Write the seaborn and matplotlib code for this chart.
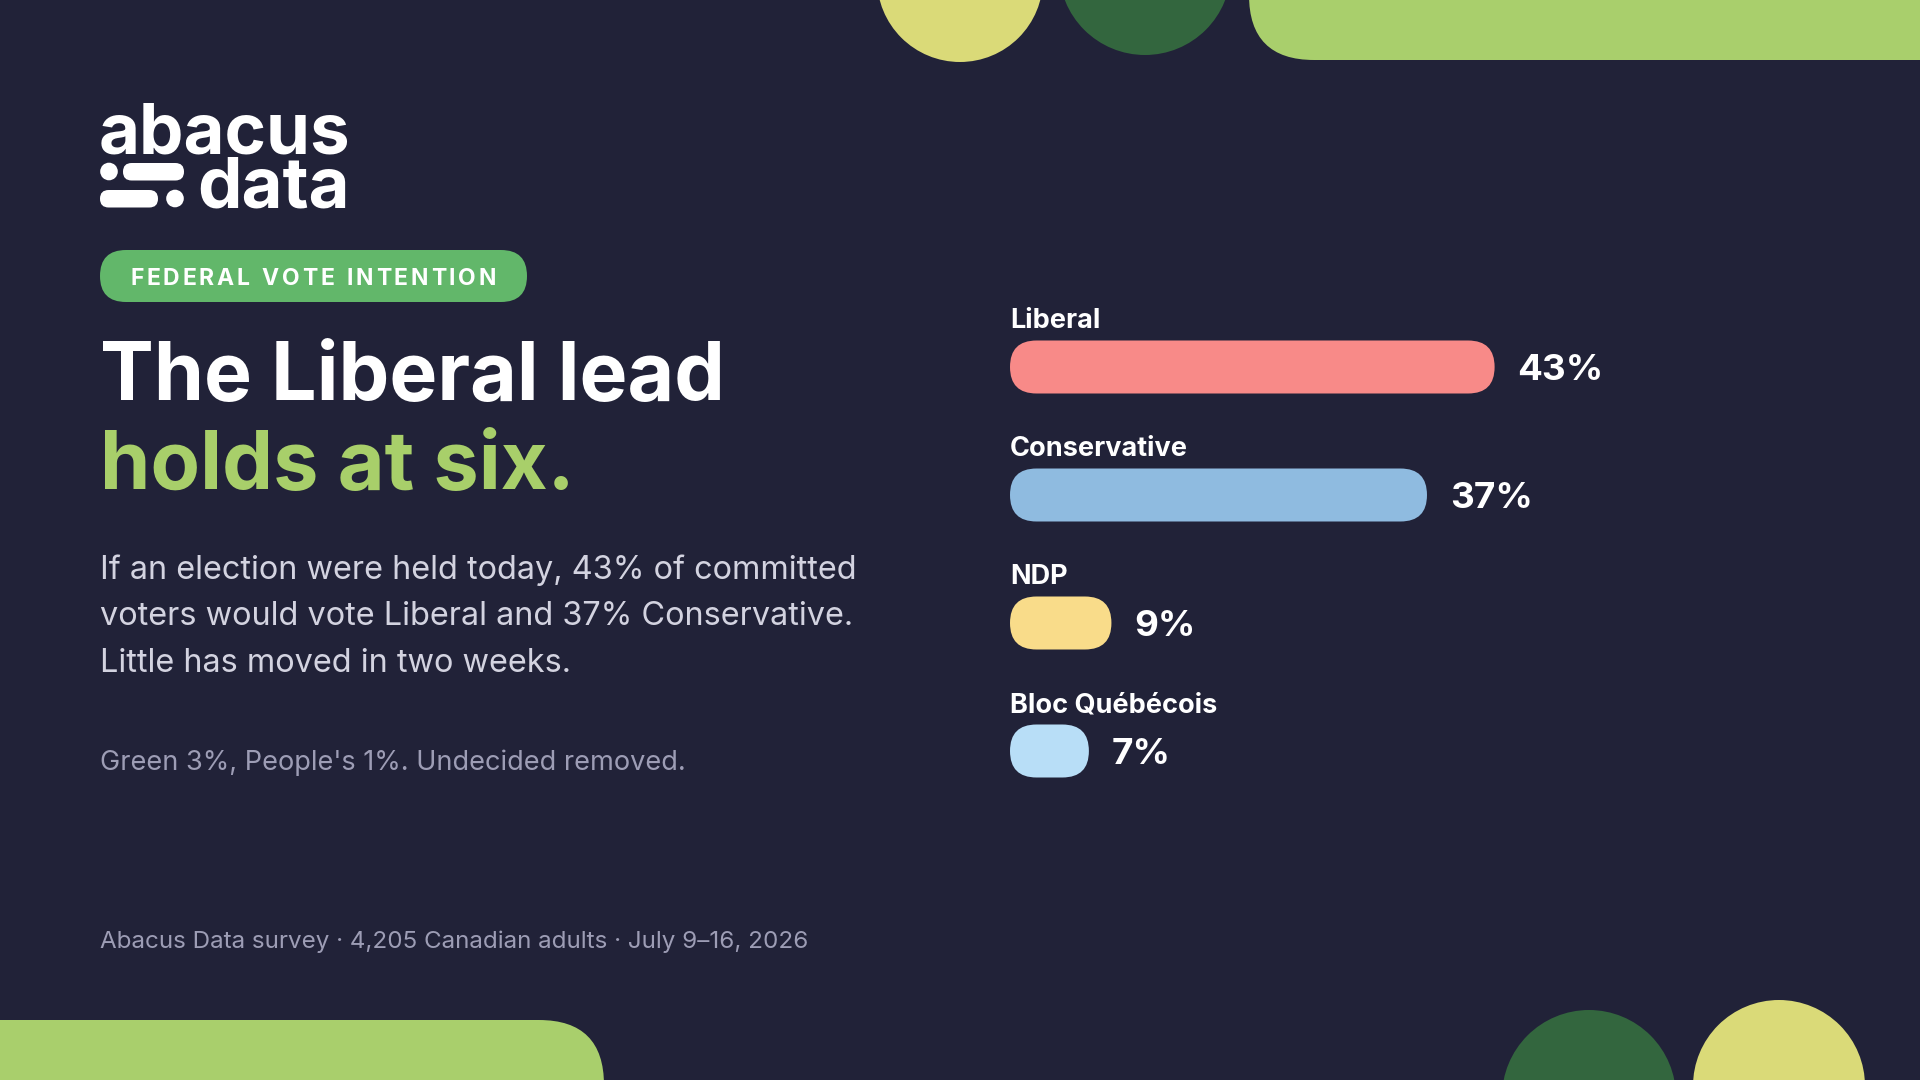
import matplotlib
matplotlib.use("Agg")
import matplotlib.pyplot as plt
import numpy as np
import pandas as pd
import seaborn as sns
from matplotlib.patches import FancyBboxPatch, Circle

# ---------------- data ----------------
parties = ["Liberal", "Conservative", "NDP", "Bloc Québécois"]
shares = [43, 37, 9, 7]
bar_colors = ["#f88a88", "#8fbbe0", "#f9dc8a", "#b8def7"]
value_labels = ["43%", "37%", "9%", "7%"]

logo_top = "abacus"
logo_bottom = "data"
kicker = "FEDERAL VOTE INTENTION"
title_line1 = "The Liberal lead"
title_line2 = "holds at six."
body_lines = [
    "If an election were held today, 43% of committed",
    "voters would vote Liberal and 37% Conservative.",
    "Little has moved in two weeks.",
]
note = "Green 3%, People's 1%. Undecided removed."
footer = "Abacus Data survey · 4,205 Canadian adults · July 9–16, 2026"

# ---------------- style ----------------
BG = "#212238"
WHITE = "#ffffff"
GREEN_TITLE = "#a8cf6a"
PILL_GREEN = "#62b76a"
BODY = "#d3d3e0"
MUTED = "#9d9db5"
DECO_YELLOW = "#dada78"
DECO_DARK = "#33663e"
DECO_LIGHT = "#a9cf6c"

sns.set_theme(style="white")
plt.rcParams["font.family"] = ["Inter", "DejaVu Sans"]

fig = plt.figure(figsize=(19.2, 10.8), dpi=100, facecolor=BG)
renderer = fig.canvas.get_renderer()

# full-figure overlay in pixel units
bg = fig.add_axes([0, 0, 1, 1])
bg.set_xlim(0, 1920)
bg.set_ylim(1080, 0)
bg.axis("off")

# decorations
bg.add_patch(Circle((960, -21), 83, fc=DECO_YELLOW, ec="none"))
bg.add_patch(Circle((1145, -31), 86, fc=DECO_DARK, ec="none"))
bg.add_patch(FancyBboxPatch((1249, -70), 900, 130,
                            boxstyle="round,pad=0,rounding_size=65",
                            fc=DECO_LIGHT, ec="none"))
bg.add_patch(FancyBboxPatch((-200, 1020), 804, 130,
                            boxstyle="round,pad=0,rounding_size=65",
                            fc=DECO_LIGHT, ec="none"))
bg.add_patch(Circle((1589, 1097), 87, fc=DECO_DARK, ec="none"))
bg.add_patch(Circle((1779, 1086), 86, fc=DECO_YELLOW, ec="none"))


def fit(t, target_w):
    bb = t.get_window_extent(renderer=renderer)
    t.set_fontsize(t.get_fontsize() * target_w / bb.width)
    return t


# logo: one two-line text, right aligned, baselines 153 and 208
logo = bg.text(350, 208, logo_top + "\n" + logo_bottom, color=WHITE,
               fontsize=50, fontweight="bold", va="baseline", ha="right",
               multialignment="right", linespacing=0.8)
fit(logo, 252)
lw, lh, ld = renderer.get_text_width_height_descent("lp", logo.get_fontproperties(), ismath=False)
logo.set_linespacing(max(0.3, (55 - ld) / (lh - ld)))

bg.add_patch(Circle((109, 171.5), 8.8, fc=WHITE, ec="none"))
bg.add_patch(FancyBboxPatch((123, 163), 61, 17.5,
                            boxstyle="round,pad=0,rounding_size=8.7",
                            fc=WHITE, ec="none"))
bg.add_patch(FancyBboxPatch((100, 190), 58, 17.5,
                            boxstyle="round,pad=0,rounding_size=8.7",
                            fc=WHITE, ec="none"))
bg.add_patch(Circle((175, 198.5), 8.8, fc=WHITE, ec="none"))

# kicker pill
bg.add_patch(FancyBboxPatch((100, 250), 427, 52,
                            boxstyle="round,pad=0,rounding_size=26",
                            fc=PILL_GREEN, ec="none"))
k_size = 16.5
chars = []
widths = []
for ch in kicker:
    t = bg.text(0, 285, ch, color=WHITE, fontsize=k_size, fontweight="bold",
                va="baseline", ha="left")
    if ch == " ":
        w = k_size / 0.72 * 0.28
    else:
        w = t.get_window_extent(renderer=renderer).width
    chars.append(t)
    widths.append(w)
target = 366
gap = (target - sum(widths)) / (len(kicker) - 1)
xpos = 130
for t, w in zip(chars, widths):
    t.set_x(xpos)
    xpos += w + gap

# title
fit(bg.text(100, 400, title_line1, color=WHITE, fontsize=56, fontweight="bold",
            va="baseline", ha="left"), 626)
fit(bg.text(100, 489, title_line2, color=GREEN_TITLE, fontsize=56, fontweight="bold",
            va="baseline", ha="left"), 475)

# body
b0 = fit(bg.text(100, 579, body_lines[0], color=BODY, fontsize=22,
                 va="baseline", ha="left"), 758)
bsize = b0.get_fontsize()
for line, yb in zip(body_lines[1:], [625, 672]):
    bg.text(100, yb, line, color=BODY, fontsize=bsize, va="baseline", ha="left")

fit(bg.text(100, 770, note, color=MUTED, fontsize=19, va="baseline", ha="left"), 585)
fit(bg.text(100, 948, footer, color=MUTED, fontsize=16, va="baseline", ha="left"), 710)

# ---------------- bars ----------------
PX_PER_PCT = 11.27
XMAX = 80
ROW_PX = 128
ax_left, ax_top = 1010, 303
ax_w = XMAX * PX_PER_PCT
ax_h = ROW_PX * len(parties)
ax = fig.add_axes([ax_left / 1920, 1 - (ax_top + ax_h) / 1080, ax_w / 1920, ax_h / 1080])
ax.patch.set_alpha(0)

df = pd.DataFrame({"party": parties, "share": shares})
sns.barplot(data=df, x="share", y="party", hue="party", palette=bar_colors,
            orient="h", width=53 / ROW_PX, legend=False, ax=ax, saturation=1)
ax.set_xlim(0, XMAX)
ax.set_ylim(len(parties) - 0.5, -0.5)
ax.axis("off")

fig.canvas.draw()
o = ax.transData.transform((0, 0))
sx = ax.transData.transform((1, 0))[0] - o[0]
sy = abs(ax.transData.transform((0, 1))[1] - o[1])
for p in list(ax.patches):
    x0, y0, w, h = p.get_x(), p.get_y(), p.get_width(), p.get_height()
    r_px = abs(h) * sy / 2
    fb = FancyBboxPatch((x0, y0), w, h,
                        boxstyle=f"round,pad=0,rounding_size={r_px / sx}",
                        mutation_aspect=sx / sy,
                        fc=p.get_facecolor(), ec="none")
    p.remove()
    ax.add_patch(fb)

for i, (name, v, lab) in enumerate(zip(parties, shares, value_labels)):
    ax.text(0, i - 39 / ROW_PX, name, color=WHITE, fontsize=19.5,
            fontweight="bold", va="baseline", ha="left")
    ax.text(v + 23 / PX_PER_PCT, i + 13 / ROW_PX, lab, color=WHITE,
            fontsize=26.5, fontweight="bold", va="baseline", ha="left")

fig.savefig("out.png", dpi=100, facecolor=BG)
